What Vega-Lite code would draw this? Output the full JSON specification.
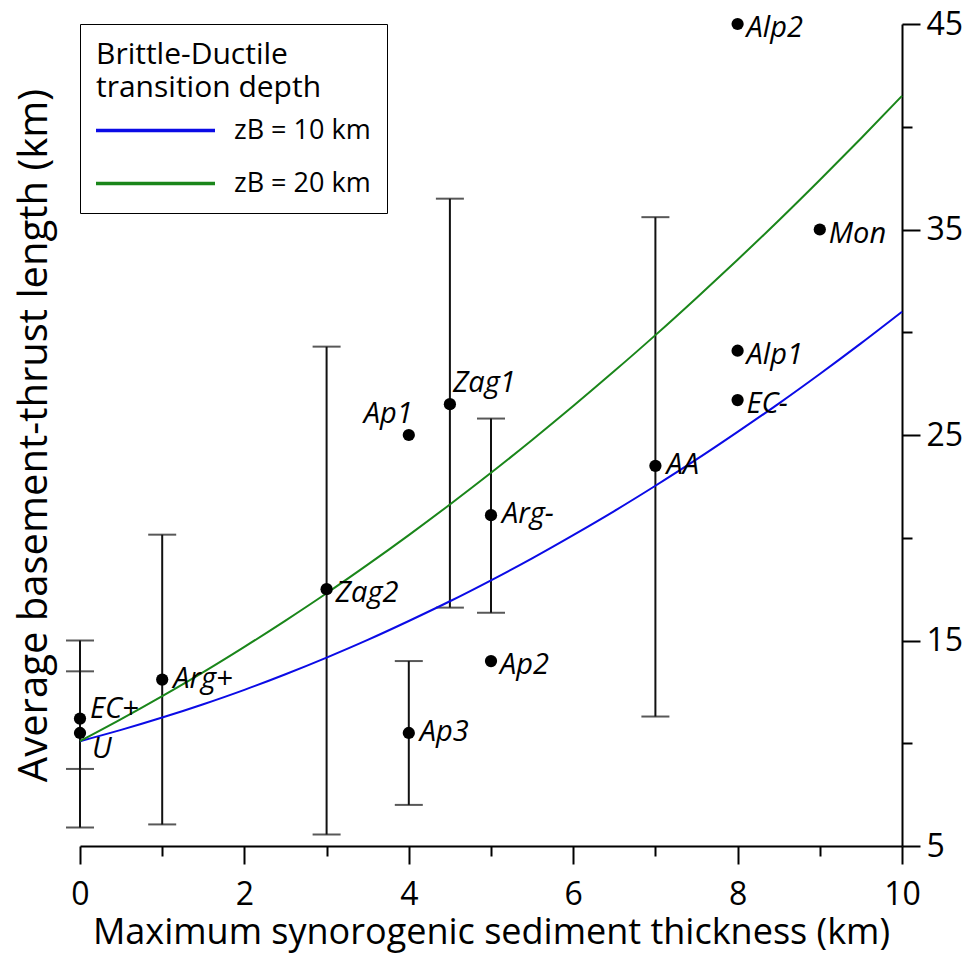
{
  "$schema": "https://vega.github.io/schema/vega-lite/v6.json",
  "autosize": {"type": "none"},
  "padding": {"left": 80, "top": 24, "right": 68, "bottom": 108},
  "width": 822,
  "height": 822,
  "background": "white",
  "config": {
    "view": {"stroke": null},
    "font": "Open Sans",
    "axis": {"grid": false, "labelFont": "Open Sans", "titleFont": "Open Sans", "labelColor": "black", "titleColor": "black", "titleFontWeight": "normal", "domainColor": "black", "tickColor": "black", "domainWidth": 2, "tickWidth": 2}
  },
  "datasets": {
    "pts": [
      {"name": "Alp2", "x": 8, "y": 45},
      {"name": "Mon", "x": 9, "y": 35},
      {"name": "Alp1", "x": 8, "y": 29.1},
      {"name": "EC-", "x": 8, "y": 26.7},
      {"name": "AA", "x": 7, "y": 23.5, "lo": 11.3, "hi": 35.6},
      {"name": "Zag1", "x": 4.5, "y": 26.5, "lo": 16.6, "hi": 36.5},
      {"name": "Ap1", "x": 4, "y": 25.0},
      {"name": "Arg-", "x": 5, "y": 21.1, "lo": 16.35, "hi": 25.8},
      {"name": "Zag2", "x": 3, "y": 17.5, "lo": 5.56, "hi": 29.3},
      {"name": "Ap2", "x": 5, "y": 14.0},
      {"name": "Ap3", "x": 4, "y": 10.5, "lo": 7.0, "hi": 14.0},
      {"name": "Arg+", "x": 1, "y": 13.1, "lo": 6.05, "hi": 20.15},
      {"name": "EC+", "x": 0, "y": 11.2, "lo": 5.9, "hi": 15.0},
      {"name": "U", "x": 0, "y": 10.5, "lo": 8.75, "hi": 13.5}
    ],
    "curves": [
      {"series": "zB = 10 km", "x": 0, "y": 10.10},
      {"series": "zB = 10 km", "x": 0.5, "y": 10.65},
      {"series": "zB = 10 km", "x": 1, "y": 11.25},
      {"series": "zB = 10 km", "x": 1.5, "y": 11.90},
      {"series": "zB = 10 km", "x": 2, "y": 12.60},
      {"series": "zB = 10 km", "x": 2.5, "y": 13.36},
      {"series": "zB = 10 km", "x": 3, "y": 14.17},
      {"series": "zB = 10 km", "x": 3.5, "y": 15.03},
      {"series": "zB = 10 km", "x": 4, "y": 15.95},
      {"series": "zB = 10 km", "x": 4.5, "y": 16.91},
      {"series": "zB = 10 km", "x": 5, "y": 17.93},
      {"series": "zB = 10 km", "x": 5.5, "y": 19.00},
      {"series": "zB = 10 km", "x": 6, "y": 20.13},
      {"series": "zB = 10 km", "x": 6.5, "y": 21.30},
      {"series": "zB = 10 km", "x": 7, "y": 22.53},
      {"series": "zB = 10 km", "x": 7.5, "y": 23.81},
      {"series": "zB = 10 km", "x": 8, "y": 25.15},
      {"series": "zB = 10 km", "x": 8.5, "y": 26.53},
      {"series": "zB = 10 km", "x": 9, "y": 27.97},
      {"series": "zB = 10 km", "x": 9.5, "y": 29.46},
      {"series": "zB = 10 km", "x": 10, "y": 31.00},
      {"series": "zB = 20 km", "x": 0, "y": 10.10},
      {"series": "zB = 20 km", "x": 0.5, "y": 11.17},
      {"series": "zB = 20 km", "x": 1, "y": 12.29},
      {"series": "zB = 20 km", "x": 1.5, "y": 13.46},
      {"series": "zB = 20 km", "x": 2, "y": 14.69},
      {"series": "zB = 20 km", "x": 2.5, "y": 15.97},
      {"series": "zB = 20 km", "x": 3, "y": 17.30},
      {"series": "zB = 20 km", "x": 3.5, "y": 18.69},
      {"series": "zB = 20 km", "x": 4, "y": 20.13},
      {"series": "zB = 20 km", "x": 4.5, "y": 21.62},
      {"series": "zB = 20 km", "x": 5, "y": 23.16},
      {"series": "zB = 20 km", "x": 5.5, "y": 24.76},
      {"series": "zB = 20 km", "x": 6, "y": 26.41},
      {"series": "zB = 20 km", "x": 6.5, "y": 28.11},
      {"series": "zB = 20 km", "x": 7, "y": 29.86},
      {"series": "zB = 20 km", "x": 7.5, "y": 31.67},
      {"series": "zB = 20 km", "x": 8, "y": 33.53},
      {"series": "zB = 20 km", "x": 8.5, "y": 35.44},
      {"series": "zB = 20 km", "x": 9, "y": 37.41},
      {"series": "zB = 20 km", "x": 9.5, "y": 39.43},
      {"series": "zB = 20 km", "x": 10, "y": 41.50}
    ]
  },
  "encoding": {
    "x": {
      "field": "x", "type": "quantitative",
      "scale": {"domain": [0, 10], "nice": false, "zero": false},
      "axis": {
        "values": [0, 1, 2, 3, 4, 5, 6, 7, 8, 9, 10],
        "labelExpr": "datum.value % 2 === 0 ? datum.label : ''",
        "tickSize": {"condition": {"test": "datum.value % 2 === 1", "value": 10}, "value": 18},
        "labelFontSize": 32,
        "labelPadding": 15,
        "labelFlush": false,
        "title": "Maximum synorogenic sediment thickness (km)",
        "titleFontSize": 36,
        "titlePadding": 5
      }
    }
  },
  "resolve": {"axis": {"y": "independent"}},
  "layer": [
    {
      "data": {"name": "pts"},
      "transform": [{"filter": "isValid(datum.lo)"}],
      "mark": {"type": "rule", "color": "#111", "strokeWidth": 2},
      "encoding": {
        "y": {"field": "lo", "type": "quantitative", "scale": {"domain": [5, 45], "nice": false, "zero": false},
          "axis": {"orient": "left", "domain": false, "ticks": false, "labels": false, "title": "Average basement-thrust length (km)", "titleFontSize": 40, "titlePadding": 26}},
        "y2": {"field": "hi"}
      }
    },
    {
      "data": {"name": "pts"},
      "transform": [{"filter": "isValid(datum.lo)"}],
      "mark": {"type": "tick", "orient": "horizontal", "size": 28, "thickness": 2, "color": "#111"},
      "encoding": {
        "y": {"field": "lo", "type": "quantitative", "scale": {"domain": [5, 45], "nice": false, "zero": false}, "axis": null}
      }
    },
    {
      "data": {"name": "pts"},
      "transform": [{"filter": "isValid(datum.hi)"}],
      "mark": {"type": "tick", "orient": "horizontal", "size": 28, "thickness": 2, "color": "#111"},
      "encoding": {
        "y": {"field": "hi", "type": "quantitative", "scale": {"domain": [5, 45], "nice": false, "zero": false}, "axis": null}
      }
    },
    {
      "data": {"name": "curves"},
      "mark": {"type": "line", "strokeWidth": 2, "interpolate": "monotone"},
      "encoding": {
        "y": {"field": "y", "type": "quantitative", "scale": {"domain": [5, 45], "nice": false, "zero": false},
          "axis": {"orient": "right", "values": [5, 10, 15, 20, 25, 30, 35, 40, 45],
            "labelExpr": "(datum.value - 5) % 10 === 0 ? datum.label : ''",
            "tickSize": {"condition": {"test": "(datum.value - 5) % 10 !== 0", "value": 10}, "value": 18},
            "labelFontSize": 32, "labelPadding": 6, "labelFlush": false, "title": null}},
        "color": {
          "field": "series", "type": "nominal",
          "scale": {"domain": ["zB = 10 km", "zB = 20 km"], "range": ["#0b0be6", "#1a861a"]},
          "legend": {
            "title": ["Brittle-Ductile", "transition depth"],
            "orient": "top-left", "offset": 0,
            "strokeColor": "black", "fillColor": "white", "padding": 16,
            "titleFont": "Open Sans", "titleFontSize": 30, "titleFontWeight": "normal", "titleColor": "black",
            "titleLineHeight": 33, "titlePadding": 14, "titleLimit": 400,
            "labelFont": "Open Sans", "labelFontSize": 27, "labelColor": "black", "labelOffset": 111, "labelLimit": 300,
            "symbolType": "M-1.35,0H10.55", "symbolSize": 400, "symbolStrokeWidth": 3.5,
            "rowPadding": 25
          }
        }
      }
    },
    {
      "data": {"name": "pts"},
      "mark": {"type": "circle", "size": 150, "color": "black", "opacity": 1},
      "encoding": {
        "y": {"field": "y", "type": "quantitative", "scale": {"domain": [5, 45], "nice": false, "zero": false}, "axis": null}
      }
    },
    {
      "data": {"name": "pts"},
      "transform": [{"filter": "indexof(['Alp2','Mon','Alp1','EC-','Zag2','Ap2'], datum.name) >= 0"}],
      "mark": {"type": "text", "align": "left", "baseline": "middle", "dx": 9, "dy": 4, "fontSize": 29, "fontStyle": "italic", "font": "Open Sans", "color": "black"},
      "encoding": {
        "y": {"field": "y", "type": "quantitative", "scale": {"domain": [5, 45], "nice": false, "zero": false}, "axis": null},
        "text": {"field": "name"}
      }
    },
    {
      "data": {"name": "pts"},
      "transform": [{"filter": "indexof(['AA','Arg-','Ap3','Arg+'], datum.name) >= 0"}],
      "mark": {"type": "text", "align": "left", "baseline": "middle", "dx": 11, "dy": -1, "fontSize": 29, "fontStyle": "italic", "font": "Open Sans", "color": "black"},
      "encoding": {
        "y": {"field": "y", "type": "quantitative", "scale": {"domain": [5, 45], "nice": false, "zero": false}, "axis": null},
        "text": {"field": "name"}
      }
    },
    {
      "data": {"name": "pts"},
      "transform": [{"filter": "datum.name === 'Zag1'"}],
      "mark": {"type": "text", "align": "left", "baseline": "middle", "dx": 3, "dy": -21, "fontSize": 29, "fontStyle": "italic", "font": "Open Sans", "color": "black"},
      "encoding": {
        "y": {"field": "y", "type": "quantitative", "scale": {"domain": [5, 45], "nice": false, "zero": false}, "axis": null},
        "text": {"field": "name"}
      }
    },
    {
      "data": {"name": "pts"},
      "transform": [{"filter": "datum.name === 'Ap1'"}],
      "mark": {"type": "text", "align": "right", "baseline": "middle", "dx": 4, "dy": -21, "fontSize": 29, "fontStyle": "italic", "font": "Open Sans", "color": "black"},
      "encoding": {
        "y": {"field": "y", "type": "quantitative", "scale": {"domain": [5, 45], "nice": false, "zero": false}, "axis": null},
        "text": {"field": "name"}
      }
    },
    {
      "data": {"name": "pts"},
      "transform": [{"filter": "datum.name === 'EC+'"}],
      "mark": {"type": "text", "align": "left", "baseline": "middle", "dx": 10, "dy": -10, "fontSize": 29, "fontStyle": "italic", "font": "Open Sans", "color": "black"},
      "encoding": {
        "y": {"field": "y", "type": "quantitative", "scale": {"domain": [5, 45], "nice": false, "zero": false}, "axis": null},
        "text": {"field": "name"}
      }
    },
    {
      "data": {"name": "pts"},
      "transform": [{"filter": "datum.name === 'U'"}],
      "mark": {"type": "text", "align": "left", "baseline": "middle", "dx": 12, "dy": 16, "fontSize": 29, "fontStyle": "italic", "font": "Open Sans", "color": "black"},
      "encoding": {
        "y": {"field": "y", "type": "quantitative", "scale": {"domain": [5, 45], "nice": false, "zero": false}, "axis": null},
        "text": {"field": "name"}
      }
    }
  ]
}
